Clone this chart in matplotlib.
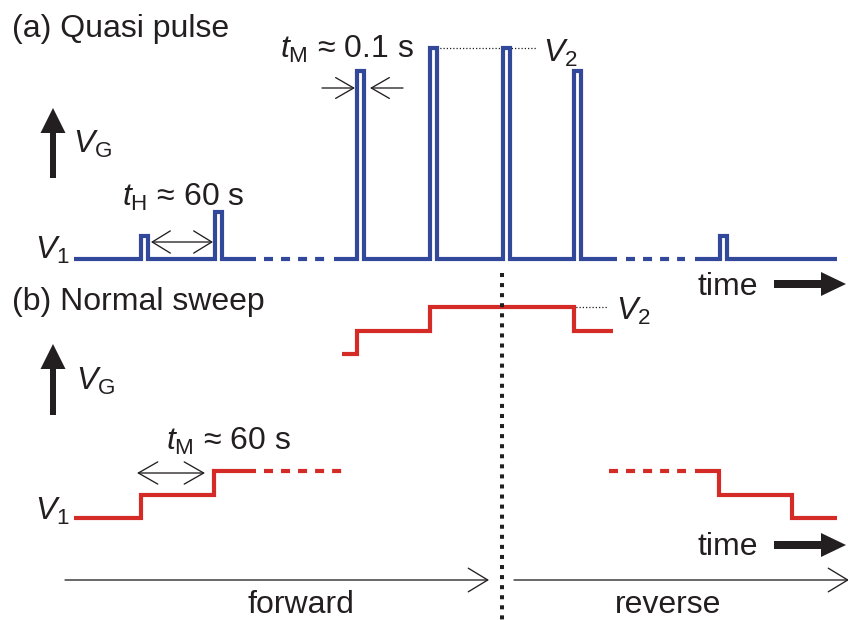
import matplotlib
matplotlib.use('Agg')
import matplotlib.pyplot as plt
from matplotlib.patches import FancyArrowPatch

plt.rcParams['font.family'] = 'Liberation Sans'
plt.rcParams['mathtext.fontset'] = 'custom'
plt.rcParams['mathtext.rm'] = 'Liberation Sans'
plt.rcParams['mathtext.it'] = 'Liberation Sans:italic'

BLUE = '#32489b'
RED = '#d52b27'
INK = '#231f20'

# (a) quasi pulse: pulse start times and heights (in voltage steps above V1)
pulse_t = [141, 215, 357, 430, 503, 574, 720]
pulse_lvl = [1, 2, 8, 9, 9, 8, 1]
pulse_w = 7
pulse_solid = [(74, 256), (334, 617), (695, 837)]
pulse_gaps = [(264, 325), (626, 685)]

# (b) normal sweep: staircase pieces (time, level), steps-post
sweep_t = [[74, 141, 214, 256], [342, 357, 430, 574, 613], [695, 719, 792, 837]]
sweep_lvl = [[0, 1, 2, 2], [7, 8, 9, 8, 8], [2, 1, 0, 0]]
sweep_gaps = [(264, 343), (609, 686)]
gap_lvl = 2
v2_lvl = 9
t_reverse = 502

fig = plt.figure(figsize=(8.48, 6.2), dpi=100)
ax_a = fig.add_axes([0, 0, 1, 1])
ax_b = fig.add_axes([0, 0, 1, 1])
ax = fig.add_axes([0, 0, 1, 1])
for a in (ax_a, ax_b, ax):
    a.set_xlim(0, 848)
    a.axis('off')
    a.patch.set_alpha(0)
ax_a.set_ylim(-15.39, 11.045)
ax_b.set_ylim(-4.35, 22.10)
ax.set_ylim(620, 0)

lw = 3.0
dash = (9 / 4 / 1.04, 8 / 4 / 1.04)

# pulse train
for t0, t1 in pulse_solid:
    xs, ys = [t0], [0]
    for t, lv in zip(pulse_t, pulse_lvl):
        if t0 < t < t1:
            xs += [t, t, t + pulse_w, t + pulse_w]
            ys += [0, lv, lv, 0]
    xs.append(t1)
    ys.append(0)
    ax_a.plot(xs, ys, color=BLUE, lw=lw, solid_joinstyle='miter', solid_capstyle='butt', zorder=3)
for t0, t1 in pulse_gaps:
    ax_a.plot([t0, t1], [0, 0], color=BLUE, lw=lw, dashes=dash, dash_capstyle='butt')

# staircase sweep
for ts, lv in zip(sweep_t, sweep_lvl):
    ax_b.plot(ts, lv, drawstyle='steps-post', color=RED, lw=lw,
              solid_joinstyle='miter', solid_capstyle='butt', zorder=3)
for t0, t1 in sweep_gaps:
    ax_b.plot([t0, t1], [gap_lvl, gap_lvl], color=RED, lw=lw, dashes=dash, dash_capstyle='butt')

# V2 guide lines
ax_a.plot([430, 537], [v2_lvl, v2_lvl], color=INK, lw=0.9, dashes=(1, 1.6), zorder=1)
ax_b.plot([540, 607], [v2_lvl, v2_lvl], color=INK, lw=0.9, dashes=(1, 1.6), zorder=1)

# sweep reversal marker
ax.plot([t_reverse, t_reverse], [273, 620], color=INK, lw=2.9, dashes=(1, 1.5), dash_capstyle='butt')


def arrow(x0, y0, x1, y1, style, hl, hw):
    ax.add_patch(FancyArrowPatch((x0, y0), (x1, y1), arrowstyle=f'{style},head_length={hl},head_width={hw}',
                                 mutation_scale=1, shrinkA=0, shrinkB=0, color=INK, lw=0.95))


arrow(151, 242, 213, 242, '<->', 13, 8)
arrow(137, 473, 205, 473, '<->', 14, 8)
arrow(322, 88, 355, 88, '->', 13, 7.5)
arrow(403, 88, 370, 88, '->', 13, 7.5)
arrow(65, 580, 489, 580, '->', 14, 8.5)
arrow(514, 580, 849, 580, '->', 14, 8.5)

# thick arrows for V_G and time
for x, y0, y1 in [(53, 178, 108), (53, 415, 344)]:
    ax.arrow(x, y0, 0, y1 - y0, width=6, head_width=25, head_length=25,
             length_includes_head=True, fc=INK, ec='none')
for y in (284, 545):
    ax.arrow(774, y, 72, 0, width=8, head_width=24, head_length=25,
             length_includes_head=True, fc=INK, ec='none')

fs = 23
txt = dict(color=INK, fontsize=fs, va='baseline', ha='left')
ax.text(12, 37, '(a) Quasi pulse', **txt)
ax.text(12, 310, '(b) Normal sweep', **txt)
ax.text(697, 295, 'time', **txt)
ax.text(697, 555, 'time', **txt)
ax.text(248, 613, 'forward', **txt)
ax.text(615, 613, 'reverse', **txt)
ax.text(280, 58, r'$t_\mathrm{M}$ ≈ 0.1 s', **txt)
ax.text(122, 206, r'$t_\mathrm{H}$ ≈ 60 s', **txt)
ax.text(166, 450, r'$t_\mathrm{M}$ ≈ 60 s', **txt)
ax.text(73, 153, r'$V_\mathrm{G}$', **txt)
ax.text(76, 390, r'$V_\mathrm{G}$', **txt)
ax.text(35, 259, r'$V_\mathrm{1}$', **txt)
ax.text(35, 520, r'$V_\mathrm{1}$', **txt)
ax.text(543, 62, r'$V_\mathrm{2}$', **txt)
ax.text(616, 320, r'$V_\mathrm{2}$', **txt)

fig.savefig('out.png', dpi=100)
